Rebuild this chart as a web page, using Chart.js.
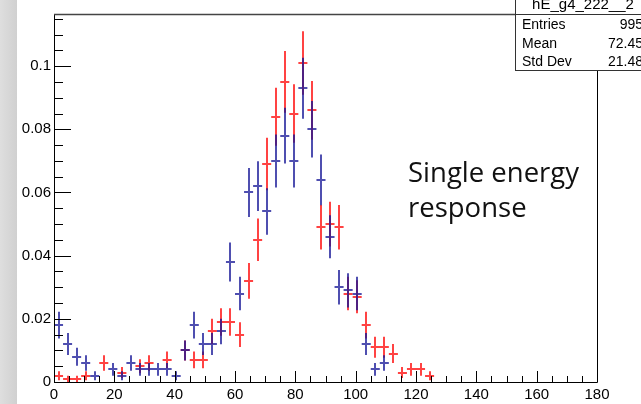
<!DOCTYPE html>
<html>
<head>
<meta charset="utf-8">
<script src="https://cdn.jsdelivr.net/npm/chart.js@4.4.1/dist/chart.umd.min.js"></script>
<style>
  html, body { margin: 0; padding: 0; }
  body {
    width: 641px; height: 404px; overflow: hidden;
    background: linear-gradient(to right, #dedede 0, #d0d0d0 17px, #fff 17px);
  }
  canvas { display: block; }
</style>
</head>
<body>
<canvas id="chart" width="641" height="404"></canvas>
<script>
// histogram: 60 bins of width 3 from 0 to 180, normalised contents
const binWidth = 3;
const entries = 995;

const blueValues = [
  0.018, 0.012, 0.008, 0.006, 0.002, null, 0.004, 0.002, 0.006, 0.004,
  0.004, 0.004, 0.004, 0.002, 0.010, 0.018, 0.012, 0.012, 0.016, 0.038,
  0.028, 0.060, 0.062, 0.054, 0.070, 0.078, 0.070, 0.093, 0.080, 0.064,
  0.046, 0.030, 0.029, 0.028, 0.012, 0.004, 0.006
];
const redValues = [
  0.002, 0.001, 0.001, 0.002, null, 0.006, null, 0.003, null, 0.005,
  0.006, null, 0.007, null, 0.010, 0.007, 0.007, 0.016, 0.019, 0.019,
  0.015, 0.032, 0.045, 0.069, 0.084, 0.095, 0.085, 0.101, 0.086, 0.049,
  0.050, 0.049, 0.028, 0.027, 0.018, 0.011, 0.011, 0.009, 0.003, 0.004,
  0.004, 0.002
];

const xTickValues = [0, 20, 40, 60, 80, 100, 120, 140, 160, 180];
const yTickValues = [0, 0.02, 0.04, 0.06, 0.08, 0.1];
const yTickLabels = ["0", "0.02", "0.04", "0.06", "0.08", "0.1"];

const statsTitle = "hE_g4_222__2";
const statsLabels = ["Entries", "Mean", "Std Dev"];
const statsValues = ["995", "72.45", "21.48"];

function toPoints(values) {
  return values
    .map((v, i) => ({ x: (i + 0.5) * binWidth, y: v }))
    .filter(p => p.y !== null);
}

function line(ctx, x1, y1, x2, y2) {
  ctx.beginPath();
  ctx.moveTo(x1, y1);
  ctx.lineTo(x2, y2);
  ctx.stroke();
}

// error crosses, like ROOT's "E" option
const crosses = {
  id: 'crosses',
  afterDatasetsDraw(chart) {
    const { ctx, scales: { x, y } } = chart;
    chart.data.datasets.forEach(ds => {
      ctx.save();
      ctx.strokeStyle = ds.borderColor;
      ctx.lineWidth = 2;
      ctx.beginPath();
      ds.data.forEach(p => {
        const err = Math.sqrt(p.y / entries);
        const px = Math.round(x.getPixelForValue(p.x));
        const py = Math.round(y.getPixelForValue(p.y));
        ctx.moveTo(x.getPixelForValue(p.x - binWidth / 2), py);
        ctx.lineTo(x.getPixelForValue(p.x + binWidth / 2), py);
        ctx.moveTo(px, y.getPixelForValue(p.y + err));
        ctx.lineTo(px, y.getPixelForValue(Math.max(0, p.y - err)));
      });
      ctx.stroke();
      ctx.restore();
    });
  }
};

const frame = {
  id: 'frame',
  afterDraw(chart) {
    const { ctx, chartArea: a, scales: { x, y } } = chart;
    const boxLeft = 515.5, boxBottom = 70.5;
    ctx.save();

    // frame
    ctx.strokeStyle = '#000';
    ctx.lineWidth = 1;
    line(ctx, a.left + 0.5, a.top, a.left + 0.5, a.bottom + 0.5);
    line(ctx, a.left, a.bottom + 0.5, a.right + 0.5, a.bottom + 0.5);
    line(ctx, a.right + 0.5, boxBottom, a.right + 0.5, a.bottom + 0.5);
    ctx.strokeStyle = '#444';
    ctx.lineWidth = 1.5;
    line(ctx, a.left, a.top + 0.5, boxLeft, a.top + 0.5);

    // y ticks
    ctx.strokeStyle = '#000';
    ctx.lineWidth = 1;
    for (let i = 0; i <= 23; i++) {
      const py = Math.round(y.getPixelForValue(i * 0.005)) + 0.5;
      const len = i % 4 === 0 ? 17 : 9;
      line(ctx, a.left, py, a.left + len, py);
    }
    // x ticks
    for (let i = 0; i <= 36; i++) {
      const px = Math.round(x.getPixelForValue(i * 5)) + 0.5;
      const len = i % 4 === 0 ? 11 : 6;
      line(ctx, px, a.bottom, px, a.bottom - len);
    }

    // tick labels
    ctx.fillStyle = '#000';
    ctx.font = '15px "Liberation Sans", Arial, sans-serif';
    ctx.textAlign = 'right';
    ctx.textBaseline = 'middle';
    yTickValues.forEach((v, i) => {
      ctx.fillText(yTickLabels[i], a.left - 3, y.getPixelForValue(v));
    });
    ctx.textAlign = 'center';
    ctx.textBaseline = 'top';
    xTickValues.forEach(v => {
      ctx.fillText(String(v), x.getPixelForValue(v), a.bottom + 5);
    });

    // stats box
    ctx.fillStyle = '#fff';
    ctx.fillRect(boxLeft, -1, 140, boxBottom + 1);
    ctx.strokeStyle = '#333';
    ctx.lineWidth = 1;
    ctx.strokeRect(boxLeft, -1, 140, boxBottom + 1);
    line(ctx, boxLeft, 14.5, 641, 14.5);
    ctx.fillStyle = '#000';
    ctx.font = '15px "Liberation Sans", Arial, sans-serif';
    ctx.textAlign = 'center';
    ctx.textBaseline = 'middle';
    ctx.fillText(statsTitle, 583, 5);
    ctx.font = '14px "Liberation Sans", Arial, sans-serif';
    const rowY = [25, 44, 62];
    statsLabels.forEach((t, i) => {
      ctx.textAlign = 'left';
      ctx.fillText(t, 522, rowY[i]);
      ctx.textAlign = 'right';
      ctx.fillText(statsValues[i], 643, rowY[i]);
    });

    // annotation
    ctx.fillStyle = '#111';
    ctx.font = '27.5px "Open Sans", sans-serif';
    ctx.textAlign = 'left';
    ctx.textBaseline = 'alphabetic';
    ctx.fillText('Single energy', 408, 182);
    ctx.fillText('response', 408, 217);

    ctx.restore();
  }
};

new Chart(document.getElementById('chart'), {
  type: 'scatter',
  data: {
    datasets: [
      { label: 'red', data: toPoints(redValues), borderColor: 'rgba(255, 20, 20, 0.8)' },
      { label: 'blue', data: toPoints(blueValues), borderColor: 'rgba(20, 20, 150, 0.75)' }
    ]
  },
  options: {
    responsive: false,
    animation: false,
    layout: { padding: { left: 54, top: 14, right: 44, bottom: 22 } },
    elements: { point: { radius: 0, hoverRadius: 0 } },
    scales: {
      x: { type: 'linear', min: 0, max: 180, display: false },
      y: { type: 'linear', min: 0, max: 0.1165, display: false }
    },
    plugins: {
      legend: { display: false },
      tooltip: { enabled: false }
    }
  },
  plugins: [crosses, frame]
});
</script>
</body>
</html>
